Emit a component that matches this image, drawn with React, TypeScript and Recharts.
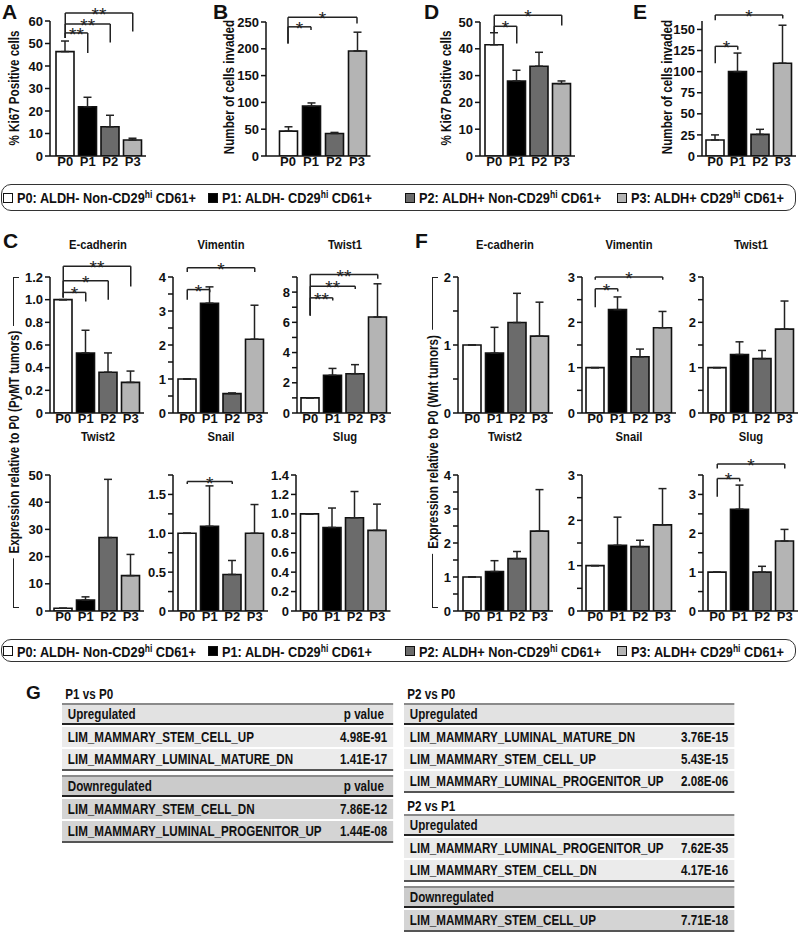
import React from 'react';
import { BarChart, Bar, XAxis, YAxis, Cell, ErrorBar, ReferenceLine } from 'recharts';

const SANS = "'Liberation Sans', Arial, sans-serif";
const SX = 0.83; // horizontal condensation applied to HTML text (narrow look)

// ---------- data ----------
const groups = ['P0', 'P1', 'P2', 'P3'];
const barFills = ['#ffffff', '#000000', '#6b6b6b', '#b4b4b4'];
const legendLabels = [
  ['P0: ALDH- Non-CD29', 'hi', ' CD61+'],
  ['P1: ALDH- CD29', 'hi', ' CD61+'],
  ['P2: ALDH+ Non-CD29', 'hi', ' CD61+'],
  ['P3: ALDH+ CD29', 'hi', ' CD61+'],
];

// A / B (PyMT) and D / E (Wnt)
const ki67PyMT = [46.4, 21.9, 13.0, 7.1];
const ki67PyMTErr = [4.7, 4.2, 5.1, 0.8];
const invasionPyMT = [46.5, 93, 42, 196];
const invasionPyMTErr = [8, 6, 2, 35];
const ki67Wnt = [41.5, 28, 33.5, 27];
const ki67WntErr = [4.5, 4, 5.2, 1];
const invasionWnt = [19, 100, 25.6, 110];
const invasionWntErr = [6, 22, 6, 45];

// C (PyMT tumors)
const ecadPyMT = [1.0, 0.53, 0.36, 0.27];
const ecadPyMTErr = [0, 0.2, 0.17, 0.1];
const vimPyMT = [1.0, 3.23, 0.57, 2.17];
const vimPyMTErr = [0, 0.48, 0.02, 1.0];
const twist1PyMT = [1.0, 2.5, 2.6, 6.35];
const twist1PyMTErr = [0, 0.45, 0.6, 2.2];
const twist2PyMT = [1.0, 4.0, 27, 13];
const twist2PyMTErr = [0, 1.2, 21.4, 7.8];
const snailPyMT = [1.0, 1.09, 0.47, 1.0];
const snailPyMTErr = [0, 0.52, 0.18, 0.37];
const slugPyMT = [1.0, 0.86, 0.96, 0.83];
const slugPyMTErr = [0, 0.2, 0.27, 0.27];

// F (Wnt tumors)
const ecadWnt = [1.0, 0.88, 1.33, 1.13];
const ecadWntErr = [0, 0.38, 0.43, 0.5];
const vimWnt = [1.0, 2.28, 1.24, 1.88];
const vimWntErr = [0, 0.28, 0.17, 0.36];
const twist1Wnt = [1.0, 1.29, 1.2, 1.85];
const twist1WntErr = [0, 0.28, 0.18, 0.62];
const twist2Wnt = [1.0, 1.16, 1.54, 2.35];
const twist2WntErr = [0, 0.32, 0.21, 1.22];
const snailWnt = [1.0, 1.45, 1.42, 1.9];
const snailWntErr = [0, 0.62, 0.14, 0.8];
const slugWnt = [1.0, 2.62, 1.0, 1.8];
const slugWntErr = [0, 0.62, 0.15, 0.3];

// significance brackets (data units)
type Sig = { to: string; y: number; l: number; r: number; mark: string };
const sigKi67PyMT: Sig[] = [
  { to: 'P1', y: 54.7, l: 52.5, r: 45.8, mark: '**' },
  { to: 'P2', y: 58.7, l: 52.5, r: 50.4, mark: '**' },
  { to: 'P3', y: 63.6, l: 52.5, r: 55.3, mark: '**' },
];
const sigInvPyMT: Sig[] = [
  { to: 'P1', y: 241, l: 210, r: 235, mark: '*' },
  { to: 'P3', y: 259, l: 210, r: 247, mark: '*' },
];
const sigKi67Wnt: Sig[] = [
  { to: 'P1', y: 48.4, l: 46.3, r: 42, mark: '*' },
  { to: 'P3', y: 52.5, l: 46.3, r: 48.7, mark: '*' },
];
const sigInvWnt: Sig[] = [
  { to: 'P1', y: 130, l: 110, r: 126, mark: '*' },
  { to: 'P3', y: 167, l: 161, r: 163, mark: '*' },
];
const sigEcadPyMT: Sig[] = [
  { to: 'P1', y: 1.064, l: 1.02, r: 0.984, mark: '*' },
  { to: 'P2', y: 1.168, l: 1.02, r: 1.0, mark: '*' },
  { to: 'P3', y: 1.295, l: 1.02, r: 1.117, mark: '**' },
];
const sigVimPyMT: Sig[] = [
  { to: 'P1', y: 3.63, l: 3.33, r: 3.55, mark: '*' },
  { to: 'P3', y: 4.27, l: 4.15, r: 4.15, mark: '*' },
];
const sigTwist1PyMT: Sig[] = [
  { to: 'P1', y: 7.62, l: 6.45, r: 7.44, mark: '**' },
  { to: 'P2', y: 8.39, l: 6.45, r: 8.2, mark: '**' },
  { to: 'P3', y: 9.16, l: 6.45, r: 8.88, mark: '**' },
];
const sigSnailPyMT: Sig[] = [{ to: 'P2', y: 1.665, l: 1.634, r: 1.634, mark: '*' }];
const sigVimWnt: Sig[] = [
  { to: 'P1', y: 2.74, l: 2.33, r: 2.68, mark: '*' },
  { to: 'P3', y: 3.0, l: 2.94, r: 2.94, mark: '*' },
];
const sigSlugWnt: Sig[] = [
  { to: 'P1', y: 3.41, l: 2.94, r: 3.33, mark: '*' },
  { to: 'P3', y: 3.78, l: 3.67, r: 3.67, mark: '*' },
];

// G tables
const p1vsP0Up = [
  ['LIM_MAMMARY_STEM_CELL_UP', '4.98E-91'],
  ['LIM_MAMMARY_LUMINAL_MATURE_DN', '1.41E-17'],
];
const p1vsP0Down = [
  ['LIM_MAMMARY_STEM_CELL_DN', '7.86E-12'],
  ['LIM_MAMMARY_LUMINAL_PROGENITOR_UP', '1.44E-08'],
];
const p2vsP0Up = [
  ['LIM_MAMMARY_LUMINAL_MATURE_DN', '3.76E-15'],
  ['LIM_MAMMARY_STEM_CELL_UP', '5.43E-15'],
  ['LIM_MAMMARY_LUMINAL_PROGENITOR_UP', '2.08E-06'],
];
const p2vsP1Up = [
  ['LIM_MAMMARY_LUMINAL_PROGENITOR_UP', '7.62E-35'],
  ['LIM_MAMMARY_STEM_CELL_DN', '4.17E-16'],
];
const p2vsP1Down = [['LIM_MAMMARY_STEM_CELL_UP', '7.71E-18']];

// ---------- components ----------
const MT = 32, XH = 24, YW = 44, MR = 4;

interface PanelProps {
  axisX: number; top: number; bottom: number; padL: number; band?: number;
  values: number[]; errors: number[]; domain: [number, number];
  ticks: number[]; labeled: number[]; decimals: number; sigs?: Sig[];
}

function Panel({ axisX, top, bottom, padL, band = 22.5, values, errors, domain, ticks, labeled, decimals, sigs = [] }: PanelProps) {
  const plotW = padL + band * 4 + 2;
  const plotH = bottom - top;
  const data = groups.map((g, i) => ({ group: g, value: values[i], err: [0, errors[i]] }));
  const fmt = (v: number) => (labeled.includes(v) ? (v === 0 ? '0' : v.toFixed(decimals)) : '');
  const line = { stroke: '#222', strokeWidth: 1.5 };
  const tickStyle = { fontSize: 13, fontWeight: 700, fontFamily: SANS, fill: '#111' };
  return (
    <div style={{ position: 'absolute', left: axisX - YW, top: top - MT }}>
      <BarChart width={YW + plotW + MR} height={MT + plotH + XH} data={data}
        margin={{ top: MT, right: MR, bottom: 0, left: 0 }} barSize={18}>
        <XAxis dataKey="group" height={XH} padding={{ left: padL, right: 2 }} interval={0}
          tickLine={false} tickSize={0} tickMargin={1}
          axisLine={{ stroke: '#111', strokeWidth: 1.5 }} tick={tickStyle} />
        <YAxis width={YW} type="number" domain={domain} allowDataOverflow ticks={ticks} interval={0}
          tickFormatter={fmt} tickSize={5} tickMargin={2}
          axisLine={{ stroke: '#111', strokeWidth: 1.5 }} tickLine={{ stroke: '#111', strokeWidth: 1.5 }}
          tick={tickStyle} />
        <Bar dataKey="value" isAnimationActive={false} stroke="#111" strokeWidth={1.6}>
          {data.map((d, i) => <Cell key={d.group} fill={barFills[i]} />)}
          <ErrorBar dataKey="err" direction="y" width={4} stroke="#222" strokeWidth={1.5} isAnimationActive={false} />
        </Bar>
        {sigs.flatMap((s, k) => [
          <ReferenceLine key={`h${k}`} segment={[{ x: 'P0', y: s.y }, { x: s.to, y: s.y }]} {...line}
            ifOverflow="visible"
            label={{ value: s.mark, position: 'top', offset: -8, fontSize: 19, fill: '#222', fontFamily: SANS }} />,
          <ReferenceLine key={`l${k}`} segment={[{ x: 'P0', y: s.y }, { x: 'P0', y: s.l }]} {...line} ifOverflow="visible" />,
          <ReferenceLine key={`r${k}`} segment={[{ x: s.to, y: s.y }, { x: s.to, y: s.r }]} {...line} ifOverflow="visible" />,
        ])}
      </BarChart>
    </div>
  );
}

function T({ x, y, size, children, anchor = 'start', sx = SX, rotate = false, bg }: any) {
  const base: React.CSSProperties = {
    position: 'absolute', fontSize: size, fontFamily: SANS, fontWeight: 700, lineHeight: 1,
    whiteSpace: 'nowrap', color: '#111',
  };
  if (rotate) {
    return (
      <div style={{ ...base, left: x, top: y, transform: `translate(-50%,-50%) rotate(-90deg) scaleX(${sx})`, background: bg, padding: bg ? '0 6px' : 0 }}>
        {children}
      </div>
    );
  }
  const tx = anchor === 'middle' ? '-50%' : anchor === 'end' ? '-100%' : '0';
  const origin = anchor === 'middle' ? '50% 0' : anchor === 'end' ? '100% 0' : '0 0';
  return (
    <div style={{ ...base, left: x, top: y - 0.49 * size, transform: `translateX(${tx}) scaleX(${sx})`, transformOrigin: origin }}>
      {children}
    </div>
  );
}

const legendX = [3, 208, 405, 617];
function Legend({ top, height, textY }: { top: number; height: number; textY: number }) {
  return (
    <>
      <div style={{ position: 'absolute', left: 1, top, width: 795, height, border: '1.5px solid #333', borderRadius: 10, boxSizing: 'border-box' }} />
      {legendLabels.map((lab, i) => (
        <React.Fragment key={i}>
          <div style={{ position: 'absolute', left: legendX[i], top: textY - 5, width: 10, height: 10, background: barFills[i], border: '1.5px solid #111', boxSizing: 'border-box' }} />
          <T x={legendX[i] + 14} y={textY} size={15} sx={0.85}>
            {lab[0]}<span style={{ fontSize: 10, position: 'relative', top: -5 }}>{lab[1]}</span>{lab[2]}
          </T>
        </React.Fragment>
      ))}
    </>
  );
}

function Block({ header, pHeader, rows, dark }: { header: string; pHeader?: boolean; rows: string[][]; dark?: boolean }) {
  const hb = dark ? '#cbcbcb' : '#e2e2e2';
  const rb = dark ? '#d4d4d4' : '#ebebeb';
  const rowStyle: React.CSSProperties = { display: 'flex', justifyContent: 'space-between', alignItems: 'center', boxSizing: 'border-box' };
  return (
    <div>
      <div style={{ height: 2, background: '#8a8a8a' }} />
      <div style={{ ...rowStyle, height: 18, background: hb, padding: '0 11px 0 7px' }}>
        <span>{header}</span>{pHeader && <span>p value</span>}
      </div>
      <div style={{ height: 2, background: '#222' }} />
      {rows.map((r) => (
        <div key={r[0]} style={{ ...rowStyle, marginTop: 2, height: 20, background: rb, padding: '0 7px' }}>
          <span>{r[0]}</span><span>{r[1]}</span>
        </div>
      ))}
      <div style={{ height: 2, background: '#555' }} />
    </div>
  );
}

const tableText: React.CSSProperties = {
  position: 'absolute', fontFamily: SANS, fontWeight: 700, fontSize: 14, lineHeight: 1, color: '#111',
  transform: `scaleX(${SX})`, transformOrigin: '0 0',
};

export default function App() {
  return (
    <div style={{ position: 'absolute', left: 0, top: 0, width: 800, height: 932, background: '#fff', overflow: 'hidden', fontFamily: SANS }}>
      {/* panel letters */}
      <T x={2} y={11} size={21} sx={1}>A</T>
      <T x={213} y={11.5} size={21} sx={1}>B</T>
      <T x={424} y={11} size={21} sx={1}>D</T>
      <T x={633} y={11.5} size={21} sx={1}>E</T>
      <T x={3} y={240} size={21} sx={1}>C</T>
      <T x={415} y={240} size={21} sx={1}>F</T>
      <T x={26} y={692} size={19} sx={1}>G</T>

      {/* top row */}
      <T x={14} y={88} size={14} rotate>% Ki67 Positive cells</T>
      <Panel axisX={50} top={21} bottom={156} padL={4} values={ki67PyMT} errors={ki67PyMTErr}
        domain={[0, 60]} ticks={[0, 10, 20, 30, 40, 50, 60]} labeled={[0, 10, 20, 30, 40, 50, 60]} decimals={0} sigs={sigKi67PyMT} />
      <T x={229} y={87} size={14} rotate>Number of cells invaded</T>
      <Panel axisX={266} top={22} bottom={156} padL={10.5} band={23} values={invasionPyMT} errors={invasionPyMTErr}
        domain={[0, 250]} ticks={[0, 50, 100, 150, 200, 250]} labeled={[0, 50, 100, 150, 200, 250]} decimals={0} sigs={sigInvPyMT} />
      <T x={446} y={88} size={14} rotate>% Ki67 Positive cells</T>
      <Panel axisX={480} top={22} bottom={156} padL={3} values={ki67Wnt} errors={ki67WntErr}
        domain={[0, 50]} ticks={[0, 10, 20, 30, 40, 50]} labeled={[0, 10, 20, 30, 40, 50]} decimals={0} sigs={sigKi67Wnt} />
      <T x={667} y={87} size={14} rotate>Number of cells invaded</T>
      <Panel axisX={702} top={21} bottom={156} padL={2} values={invasionWnt} errors={invasionWntErr}
        domain={[0, 160]} ticks={[0, 25, 50, 75, 100, 125, 150]} labeled={[0, 25, 50, 75, 100, 125, 150]} decimals={0} sigs={sigInvWnt} />

      <Legend top={184} height={27} textY={197.5} />

      {/* C */}
      <div style={{ position: 'absolute', left: 13, top: 277, width: 6, height: 331, borderLeft: '1.5px solid #222', borderTop: '1.5px solid #222', borderBottom: '1.5px solid #222', boxSizing: 'border-box' }} />
      <T x={13.5} y={442} size={14} rotate bg="#fff">Expression relative to P0 (PyMT tumors)</T>
      <T x={98} y={245} size={13.5} anchor="middle">E-cadherin</T>
      <T x={221} y={245} size={13.5} anchor="middle">Vimentin</T>
      <T x={345} y={245} size={13.5} anchor="middle">Twist1</T>
      <T x={98} y={437} size={13.5} anchor="middle">Twist2</T>
      <T x={221} y={437} size={13.5} anchor="middle">Snail</T>
      <T x={345} y={437} size={13.5} anchor="middle">Slug</T>
      <Panel axisX={50} top={277} bottom={413} padL={2} values={ecadPyMT} errors={ecadPyMTErr}
        domain={[0, 1.2]} ticks={[0, 0.2, 0.4, 0.6, 0.8, 1.0, 1.2]} labeled={[0, 0.2, 0.4, 0.6, 0.8, 1.0, 1.2]} decimals={1} sigs={sigEcadPyMT} />
      <Panel axisX={173} top={277} bottom={413} padL={3} values={vimPyMT} errors={vimPyMTErr}
        domain={[0, 4]} ticks={[0, 0.5, 1, 1.5, 2, 2.5, 3, 3.5, 4]} labeled={[0, 1, 2, 3, 4]} decimals={0} sigs={sigVimPyMT} />
      <Panel axisX={297} top={277} bottom={413} padL={2} values={twist1PyMT} errors={twist1PyMTErr}
        domain={[0, 9]} ticks={[0, 1, 2, 3, 4, 5, 6, 7, 8, 9]} labeled={[0, 2, 4, 6, 8]} decimals={0} sigs={sigTwist1PyMT} />
      <Panel axisX={50} top={475} bottom={611} padL={2} values={twist2PyMT} errors={twist2PyMTErr}
        domain={[0, 50]} ticks={[0, 10, 20, 30, 40, 50]} labeled={[0, 10, 20, 30, 40, 50]} decimals={0} />
      <Panel axisX={173} top={475} bottom={611} padL={3} values={snailPyMT} errors={snailPyMTErr}
        domain={[0, 1.75]} ticks={[0, 0.25, 0.5, 0.75, 1.0, 1.25, 1.5, 1.75]} labeled={[0, 0.5, 1.0, 1.5]} decimals={1} sigs={sigSnailPyMT} />
      <Panel axisX={296} top={475} bottom={611} padL={2.5} values={slugPyMT} errors={slugPyMTErr}
        domain={[0, 1.4]} ticks={[0, 0.2, 0.4, 0.6, 0.8, 1.0, 1.2, 1.4]} labeled={[0, 0.2, 0.4, 0.6, 0.8, 1.0, 1.2, 1.4]} decimals={1} />

      {/* F */}
      <div style={{ position: 'absolute', left: 432, top: 277, width: 6, height: 331, borderLeft: '1.5px solid #222', borderTop: '1.5px solid #222', borderBottom: '1.5px solid #222', boxSizing: 'border-box' }} />
      <T x={432.5} y={442} size={14} rotate bg="#fff">Expression relative to P0 (Wnt tumors)</T>
      <T x={505} y={245} size={13.5} anchor="middle">E-cadherin</T>
      <T x={629} y={245} size={13.5} anchor="middle">Vimentin</T>
      <T x={751} y={245} size={13.5} anchor="middle">Twist1</T>
      <T x={505} y={437} size={13.5} anchor="middle">Twist2</T>
      <T x={629} y={437} size={13.5} anchor="middle">Snail</T>
      <T x={751} y={437} size={13.5} anchor="middle">Slug</T>
      <Panel axisX={458} top={277} bottom={413} padL={3} values={ecadWnt} errors={ecadWntErr}
        domain={[0, 2]} ticks={[0, 0.5, 1, 1.5, 2]} labeled={[0, 1, 2]} decimals={0} />
      <Panel axisX={582} top={277} bottom={413} padL={2} values={vimWnt} errors={vimWntErr}
        domain={[0, 3]} ticks={[0, 0.5, 1, 1.5, 2, 2.5, 3]} labeled={[0, 1, 2, 3]} decimals={0} sigs={sigVimWnt} />
      <Panel axisX={703} top={277} bottom={413} padL={3} values={twist1Wnt} errors={twist1WntErr}
        domain={[0, 3]} ticks={[0, 0.5, 1, 1.5, 2, 2.5, 3]} labeled={[0, 1, 2, 3]} decimals={0} />
      <Panel axisX={458} top={475} bottom={611} padL={3} values={twist2Wnt} errors={twist2WntErr}
        domain={[0, 4]} ticks={[0, 0.5, 1, 1.5, 2, 2.5, 3, 3.5, 4]} labeled={[0, 1, 2, 3, 4]} decimals={0} />
      <Panel axisX={582} top={475} bottom={611} padL={2} values={snailWnt} errors={snailWntErr}
        domain={[0, 3]} ticks={[0, 0.5, 1, 1.5, 2, 2.5, 3]} labeled={[0, 1, 2, 3]} decimals={0} />
      <Panel axisX={703} top={475} bottom={611} padL={3} values={slugWnt} errors={slugWntErr}
        domain={[0, 3.5]} ticks={[0, 0.5, 1, 1.5, 2, 2.5, 3, 3.5]} labeled={[0, 1, 2, 3]} decimals={0} sigs={sigSlugWnt} />

      <Legend top={639} height={23} textY={651} />

      {/* G tables */}
      <div style={{ ...tableText, left: 62, top: 687, width: 331 / SX }}>
        <div style={{ height: 16, paddingLeft: 4 }}>P1 vs P0</div>
        <Block header="Upregulated" pHeader rows={p1vsP0Up} />
        <div style={{ height: 4 }} />
        <Block header="Downregulated" pHeader rows={p1vsP0Down} dark />
      </div>
      <div style={{ ...tableText, left: 404, top: 687, width: 330 / SX }}>
        <div style={{ height: 16, paddingLeft: 4 }}>P2 vs P0</div>
        <Block header="Upregulated" rows={p2vsP0Up} />
        <div style={{ height: 21, paddingLeft: 4, paddingTop: 6, boxSizing: 'border-box' }}>P2 vs P1</div>
        <Block header="Upregulated" rows={p2vsP1Up} />
        <div style={{ height: 4 }} />
        <Block header="Downregulated" rows={p2vsP1Down} dark />
      </div>
    </div>
  );
}
